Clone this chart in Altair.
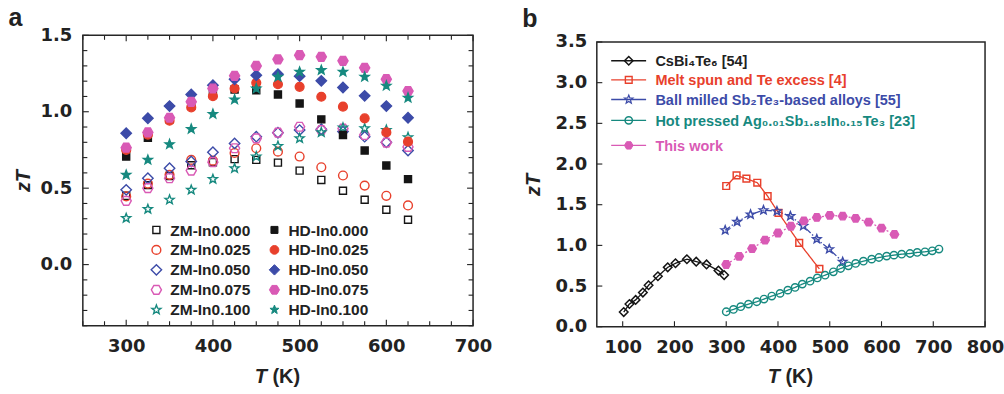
import math
import altair as alt
import pandas as pd

# ---------------- panel a: zT of zone-melted (ZM) and hot-deformed (HD) samples ----------------
temps_a = [300, 325, 350, 375, 400, 425, 450, 475, 500, 525, 550, 575, 600, 625]

zm_in000 = [0.45, 0.52, 0.58, 0.65, 0.67, 0.69, 0.685, 0.667, 0.615, 0.554, 0.483, 0.424, 0.359, 0.293]
zm_in025 = [0.446, 0.53, 0.587, 0.685, 0.68, 0.73, 0.761, 0.739, 0.707, 0.637, 0.583, 0.517, 0.45, 0.387]
zm_in050 = [0.489, 0.565, 0.63, 0.674, 0.735, 0.793, 0.837, 0.863, 0.88, 0.885, 0.87, 0.837, 0.80, 0.746]
zm_in075 = [0.417, 0.50, 0.565, 0.615, 0.67, 0.761, 0.826, 0.863, 0.902, 0.88, 0.89, 0.848, 0.798, 0.77]
zm_in100 = [0.304, 0.363, 0.424, 0.489, 0.559, 0.63, 0.707, 0.776, 0.826, 0.865, 0.896, 0.891, 0.88, 0.833]
hd_in000 = [0.707, 0.83, 0.95, 1.04, 1.12, 1.146, 1.141, 1.113, 1.054, 0.95, 0.848, 0.746, 0.648, 0.559]
hd_in025 = [0.75, 0.85, 0.941, 1.028, 1.102, 1.152, 1.189, 1.18, 1.163, 1.098, 1.033, 0.957, 0.865, 0.804]
hd_in050 = [0.859, 0.957, 1.037, 1.113, 1.174, 1.213, 1.239, 1.246, 1.233, 1.202, 1.159, 1.104, 1.037, 0.961]
hd_in075 = [0.765, 0.865, 0.961, 1.065, 1.152, 1.235, 1.30, 1.343, 1.37, 1.359, 1.333, 1.287, 1.213, 1.135]
hd_in100 = [0.587, 0.685, 0.787, 0.887, 0.985, 1.08, 1.152, 1.228, 1.261, 1.272, 1.261, 1.228, 1.17, 1.091]

compositions = ["0.000", "0.025", "0.050", "0.075", "0.100"]
zm_series = [zm_in000, zm_in025, zm_in050, zm_in075, zm_in100]
hd_series = [hd_in000, hd_in025, hd_in050, hd_in075, hd_in100]

# ---------------- panel b: comparison with reported p-type materials ----------------
cs_t = [102, 113, 125, 139, 150, 168, 187, 202, 224, 242, 262, 285, 296]
cs_zt = [0.18, 0.28, 0.33, 0.42, 0.51, 0.62, 0.73, 0.78, 0.83, 0.80, 0.766, 0.69, 0.635]

ms_t = [300, 320, 339, 360, 380, 401, 441, 480]
ms_zt = [1.73, 1.86, 1.82, 1.77, 1.605, 1.40, 1.03, 0.71]

bm_t = [298, 321, 347, 372, 398, 424, 449, 475, 499, 525]
bm_zt = [1.187, 1.29, 1.38, 1.433, 1.421, 1.36, 1.24, 1.077, 0.954, 0.798]

hp_t = [300, 314, 328, 343, 359, 373, 388, 404, 419, 433, 447, 462, 476, 491, 507,
        521, 536, 550, 565, 581, 595, 610, 624, 639, 655, 669, 684, 698, 711]
hp_zt = [0.184, 0.213, 0.246, 0.278, 0.307, 0.34, 0.377, 0.41, 0.45, 0.483, 0.524, 0.56, 0.60, 0.634, 0.675,
         0.716, 0.749, 0.778, 0.806, 0.831, 0.851, 0.868, 0.88, 0.892, 0.90, 0.913, 0.921, 0.933, 0.955]

tw_t = temps_a
tw_zt = hd_in075

labels_b = [
    "CsBi₄Te₆ [54]",
    "Melt spun and Te excess [4]",
    "Ball milled Sb₂Te₃-based alloys [55]",
    "Hot pressed Ag₀.₀₁Sb₁.₈₅In₀.₁₅Te₃ [23]",
    "This work",
]

# tick positions / labels
a_xticks = list(range(250, 701, 25))
a_xlabels = [300, 400, 500, 600, 700]
a_yticks = [round(-0.4 + 0.1 * i, 1) for i in range(20)]
a_ylabels = [0.0, 0.5, 1.0, 1.5]
b_xlabels = [100, 200, 300, 400, 500, 600, 700, 800]
b_ylabels = [0.0, 0.5, 1.0, 1.5, 2.0, 2.5, 3.0, 3.5]

# ---------------- styling ----------------
BLACK = "#151515"
RED = "#e8402c"
BLUE = "#3c4ba8"
PINK = "#d95ab5"
TEAL = "#16897f"
INK = "#222222"
FRAME = "#262626"
TEXT_FONT = "Liberation Sans"
TICK_FONT = "DejaVu Sans"


def f(v):
    return f"{v:.3f}"


def sq(h):
    return f"M{f(-h)},{f(-h)}L{f(h)},{f(-h)}L{f(h)},{f(h)}L{f(-h)},{f(h)}Z"


def dia(h):
    return f"M0,{f(-h)}L{f(h)},0L0,{f(h)}L{f(-h)},0Z"


def circ(r):
    return f"M{f(r)},0A{f(r)},{f(r)},0,1,1,{f(-r)},0A{f(r)},{f(r)},0,1,1,{f(r)},0Z"


def hexa(r):
    pts = [(r * math.cos(math.radians(60 * k)), r * math.sin(math.radians(60 * k))) for k in range(6)]
    return "M" + "L".join(f"{f(x)},{f(y)}" for x, y in pts) + "Z"


def star(ro, ri):
    pts = []
    for k in range(10):
        rad = ro if k % 2 == 0 else ri
        ang = math.radians(-90 + 36 * k)
        pts.append((rad * math.cos(ang), rad * math.sin(ang)))
    return "M" + "L".join(f"{f(x)},{f(y)}" for x, y in pts) + "Z"


one_row = alt.InlineData(values=[{"k": 0}])


def axis(values, title=None, label_pad=10, title_pad=8, fmt=None):
    kw = dict(values=values, title=title, grid=False, ticks=False, tickSize=0, domain=False,
              labelFont=TICK_FONT, labelFontSize=18, labelFontWeight="bold", labelColor=INK,
              labelPadding=label_pad, labelFlush=False, labelOverlap=False)
    if fmt:
        kw["format"] = fmt
    if title:
        kw.update(titleFont=TEXT_FONT, titleFontSize=20, titleFontStyle="italic", titleFontWeight="bold",
                  titleColor=INK, titlePadding=title_pad)
    return alt.Axis(**kw)


def vticks(values, x_enc, y_edge, length):
    data = pd.DataFrame({"T": values})
    return alt.Chart(data).mark_rule(color=INK, strokeWidth=1.1).encode(
        x=x_enc, y=alt.value(y_edge), y2=alt.value(y_edge + length))


def hticks(values, y_enc, x_edge, length):
    data = pd.DataFrame({"zT": values})
    return alt.Chart(data).mark_rule(color=INK, strokeWidth=1.1).encode(
        y=y_enc, x=alt.value(x_edge), x2=alt.value(x_edge + length))


def frame(x0, x1, y0, y1):
    return alt.Chart(one_row).mark_rect(fill="transparent", stroke=FRAME, strokeWidth=1.5).encode(
        x=alt.value(x0), x2=alt.value(x1), y=alt.value(y0), y2=alt.value(y1))


def symbol(x, y, shape, fill, stroke, size, sw):
    return alt.Chart(one_row).mark_point(shape=shape, filled=True, fill=fill, stroke=stroke, size=size,
                                         strokeWidth=sw, opacity=1).encode(
        x=alt.value(x), y=alt.value(y))


def text(x, y, txt, size, color=INK, font=TEXT_FONT, style="normal", align="left"):
    return alt.Chart(one_row).mark_text(text=txt, font=font, fontSize=size, fontWeight="bold",
                                        fontStyle=style, color=color, align=align,
                                        baseline="alphabetic").encode(
        x=alt.value(x), y=alt.value(y))


def axis_title(cx, baseline):
    # italic "T" followed by an upright "(K)"
    return [text(cx - 11, baseline, "T", 20, style="italic", align="right"),
            text(cx - 5.5, baseline, "(K)", 20)]


# ---------------- panel a ----------------
WA, HA = 391, 291
xa = alt.X("T:Q", scale=alt.Scale(domain=[250, 700], nice=False, zero=False),
           axis=axis(a_xlabels, label_pad=12))
ya = alt.Y("zT:Q", scale=alt.Scale(domain=[-0.4, 1.5], nice=False, zero=False),
           axis=axis(a_ylabels, title="zT", label_pad=11, title_pad=7, fmt=".1f"))

a_colors = [BLACK, RED, BLUE, PINK, TEAL]
a_shapes = [sq(0.64), circ(0.8), dia(0.95), hexa(0.92), star(0.86, 0.36)]
a_size = 121

series_a = [f"ZM-In{c}" for c in compositions] + [f"HD-In{c}" for c in compositions]
rows = []
for name, vals in zip(series_a, zm_series + hd_series):
    for t, z in zip(temps_a, vals):
        rows.append({"series": name, "T": t, "zT": z})
df_a = pd.DataFrame(rows)

points_a = alt.Chart(df_a).mark_point(filled=True, opacity=1, size=a_size).encode(
    x=xa, y=ya,
    shape=alt.Shape("series:N", scale=alt.Scale(domain=series_a, range=a_shapes * 2), legend=None),
    fill=alt.Fill("series:N", scale=alt.Scale(domain=series_a, range=["transparent"] * 5 + a_colors),
                  legend=None),
    stroke=alt.Stroke("series:N", scale=alt.Scale(domain=series_a, range=a_colors * 2), legend=None),
    strokeWidth=alt.StrokeWidth("series:N", scale=alt.Scale(domain=series_a, range=[1.4] * 5 + [1.0] * 5),
                                legend=None),
)

a_major_x = [v for v in a_xticks if v % 100 == 0]
a_minor_x = [v for v in a_xticks if v % 100 != 0]
a_major_y = [v for v in a_yticks if abs(v * 2 - round(v * 2)) < 1e-9]
a_minor_y = [v for v in a_yticks if v not in a_major_y]

ticks_a = [
    vticks(a_major_x, xa, HA, -6), vticks(a_minor_x, xa, HA, -4.5),
    vticks(a_major_x, xa, 0, 6), vticks(a_minor_x, xa, 0, 4.5),
    hticks(a_major_y, ya, 0, 6), hticks(a_minor_y, ya, 0, 4.5),
    hticks(a_major_y, ya, WA, -6), hticks(a_minor_y, ya, WA, -4.5),
]

legend_a = []
for i, comp in enumerate(compositions):
    cy = 195 + 20 * i
    legend_a.append(symbol(73.7, cy, a_shapes[i], "transparent", a_colors[i], a_size, 1.4))
    legend_a.append(text(87.7, cy + 5.6, f"ZM-In{comp}", 15.5))
    legend_a.append(symbol(192, cy, a_shapes[i], a_colors[i], a_colors[i], a_size, 1.0))
    legend_a.append(text(206, cy + 5.6, f"HD-In{comp}", 15.5))

titles_a = axis_title(WA / 2, 348) + [text(-74.5, -9, "a", 25)]

chart_a = alt.layer(*ticks_a, frame(0, WA, 0, HA), points_a, *legend_a, *titles_a).properties(
    width=WA, height=HA)

# ---------------- panel b ----------------
# panel b's frame starts a little lower than panel a's; both share the same group origin
WB, HB = 389, 292
TOP_B = 6.7
xb = alt.X("T:Q", scale=alt.Scale(domain=[50, 800], nice=False, zero=False),
           axis=axis(b_xlabels, label_pad=12))
yb = alt.Y("zT:Q", scale=alt.Scale(domain=[0, 3.5], nice=False, zero=False, range=[HB, TOP_B]),
           axis=axis(b_ylabels, title="zT", label_pad=10, title_pad=12, fmt=".1f"))

series_b = ["CsBi4Te6", "Melt spun", "Ball milled", "Hot pressed", "This work"]
b_colors = [BLACK, RED, BLUE, TEAL, PINK]
b_shapes = [dia(0.95), sq(0.75), star(0.98, 0.42), circ(0.82), hexa(0.95)]
b_fills = ["transparent"] * 4 + [PINK]
b_widths = [1.5, 1.4, 1.2, 1.5, 1.0]
b_dash = [[1, 0], [1, 0], [6, 2, 1.5, 2], [1, 0], [2, 2.5]]
b_size = 81

rows = []
for name, ts, zs in zip(series_b, [cs_t, ms_t, bm_t, hp_t, tw_t], [cs_zt, ms_zt, bm_zt, hp_zt, tw_zt]):
    for t, z in zip(ts, zs):
        rows.append({"series": name, "T": t, "zT": z})
df_b = pd.DataFrame(rows)

lines_b = alt.Chart(df_b).mark_line(strokeWidth=1.3).encode(
    x=xb, y=yb,
    color=alt.Color("series:N", scale=alt.Scale(domain=series_b, range=b_colors), legend=None),
    strokeDash=alt.StrokeDash("series:N", scale=alt.Scale(domain=series_b, range=b_dash), legend=None),
    detail="series:N",
)

points_b = alt.Chart(df_b).mark_point(filled=True, opacity=1, size=b_size).encode(
    x=xb, y=yb,
    shape=alt.Shape("series:N", scale=alt.Scale(domain=series_b, range=b_shapes), legend=None),
    fill=alt.Fill("series:N", scale=alt.Scale(domain=series_b, range=b_fills), legend=None),
    stroke=alt.Stroke("series:N", scale=alt.Scale(domain=series_b, range=b_colors), legend=None),
    strokeWidth=alt.StrokeWidth("series:N", scale=alt.Scale(domain=series_b, range=b_widths), legend=None),
)

ticks_b = [
    vticks(b_xlabels, xb, HB, -5.5),
    hticks(b_ylabels, yb, 0, 5.5),
]

legend_b = []
row_y = [18.8, 38.0, 57.6, 78.5, 103.6]
for i, label in enumerate(labels_b):
    cy = row_y[i] + TOP_B
    col = b_colors[i]
    legend_b.append(alt.Chart(one_row).mark_rule(color=col, strokeWidth=1.3).encode(
        x=alt.value(14.4), x2=alt.value(49.4), y=alt.value(cy)))
    legend_b.append(symbol(32, cy, b_shapes[i], b_fills[i], col, b_size, b_widths[i]))
    legend_b.append(text(58.7, cy + 5.2, label, 14.5, color=INK if i == 0 else col))

titles_b = axis_title(WB / 2, 348) + [text(-74.6, -8.3, "b", 25)]

chart_b = alt.layer(*ticks_b, frame(0, WB, TOP_B, HB), lines_b, points_b, *legend_b, *titles_b).properties(
    width=WB, height=HB)

chart = alt.hconcat(chart_a, chart_b, spacing=30).resolve_scale(
    color="independent", shape="independent", fill="independent", stroke="independent",
    strokeWidth="independent", strokeDash="independent",
).properties(
    padding={"left": 8, "top": 6, "right": 0, "bottom": 0}
).configure_view(stroke=None)

chart.save("out.html", embed_options={"renderer": "svg", "actions": False})
